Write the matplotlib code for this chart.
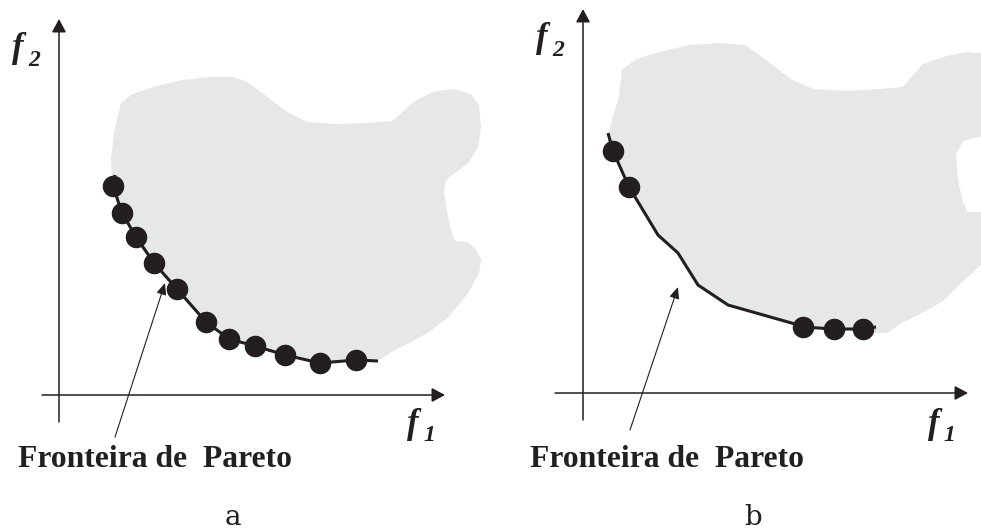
import matplotlib
matplotlib.use("Agg")
import matplotlib.pyplot as plt
from matplotlib.patches import Polygon

# ---------------------------------------------------------------
# Data (drawing units: pixels of the 981 x 532 canvas, y downwards)
# ---------------------------------------------------------------

# Panel a: objective-space region outline
region_a_x = [122, 133, 157, 183, 210, 233, 247, 267, 287, 307, 333, 367, 393,
              403, 415, 433, 453, 470, 478, 480, 477, 467, 453, 445, 443, 447,
              452, 455, 467, 475, 480, 478, 467, 447, 430, 413, 393, 380,
              356, 320, 285, 255, 229, 206, 177, 154, 136, 122, 113, 112, 115]
region_a_y = [103, 95, 87, 81, 78, 78, 83, 98, 113, 123, 125, 124, 122,
              113, 102, 93, 90, 95, 105, 127, 147, 163, 173, 180, 193, 217,
              237, 242, 243, 250, 260, 273, 293, 317, 330, 340, 350, 358,
              360, 363, 355, 346, 339, 322, 289, 263, 237, 213, 180, 160, 133]

# Panel a: Pareto-optimal solutions and the front through them
front_a_x = [113, 122, 136, 154, 177, 206, 229, 255, 285, 320, 356]
front_a_y = [186, 213, 237, 263, 289, 322, 339, 346, 355, 363, 360]
curve_a_x = [115] + front_a_x + [378]
curve_a_y = [175] + front_a_y + [361]

# Panel b: objective-space region outline
region_b_x = [623, 637, 663, 690, 720, 745, 767, 790, 813, 847, 880, 903,
              913, 923, 947, 967, 990, 990, 963, 955, 957, 962, 967, 990,
              990, 963, 943, 920, 900, 887, 873,
              863, 834, 803, 795, 728, 698, 678, 658, 629, 613, 608,
              613, 620, 622]
region_b_y = [70, 60, 52, 46, 44, 46, 62, 80, 90, 92, 90, 88,
              77, 65, 57, 53, 55, 133, 140, 153, 180, 203, 213, 213,
              255, 280, 300, 313, 323, 332, 332,
              329, 329, 327, 324, 305, 285, 253, 235, 187, 151, 145,
              120, 97, 77]

# Panel b: Pareto-optimal solutions found and the true front
front_b_x = [613, 629, 803, 834, 863]
front_b_y = [151, 187, 327, 329, 329]
curve_b_x = [608, 613, 629, 658, 678, 698, 728, 795, 803, 834, 863, 876]
curve_b_y = [133, 151, 187, 235, 253, 285, 305, 324, 327, 329, 329, 327]

# Axes (origin / extents) of each panel
axis_x_start = [42, 555]
axis_x_end = [445, 968]
axis_x_level = [395, 393]
axis_y_pos = [59, 583]
axis_y_bottom = [422, 420]
axis_y_top = [19, 9]

# Pointer arrows from the caption to the front
pointer_tail = [(115, 437), (630, 430)]
pointer_head = [(165, 283), (678, 287)]

caption = "Fronteira de  Pareto"
caption_x = [18, 530]
panel_labels = ["a", "b"]
panel_label_x = [233, 753]

INK = "#231f20"
REGION = "#e6e7e8"

fig = plt.figure(figsize=(9.81, 5.32), dpi=100)
ax = fig.add_axes([0, 0, 1, 1])
ax.set_xlim(0, 981)
ax.set_ylim(532, 0)
ax.axis("off")

# Feasible regions
for rx, ry in [(region_a_x, region_a_y), (region_b_x, region_b_y)]:
    ax.add_patch(Polygon(list(zip(rx, ry)), closed=True, facecolor=REGION,
                         edgecolor=REGION, lw=1.5, joinstyle="round", zorder=1))

# Coordinate axes with arrow heads
axis_style = "-|>,head_length=8,head_width=4.3"
for i in range(2):
    ax.annotate("", xy=(axis_x_end[i], axis_x_level[i]),
                xytext=(axis_x_start[i], axis_x_level[i]),
                arrowprops=dict(arrowstyle=axis_style, mutation_scale=1,
                                color=INK, lw=1.1, shrinkA=0, shrinkB=0),
                zorder=2)
    ax.annotate("", xy=(axis_y_pos[i], axis_y_top[i]),
                xytext=(axis_y_pos[i], axis_y_bottom[i]),
                arrowprops=dict(arrowstyle=axis_style, mutation_scale=1,
                                color=INK, lw=1.1, shrinkA=0, shrinkB=0),
                zorder=2)

# Pareto fronts
ax.plot(curve_a_x, curve_a_y, color=INK, lw=2.2, solid_joinstyle="round",
        solid_capstyle="butt", zorder=3)
ax.plot(front_a_x, front_a_y, "o", color=INK, ms=14.5, zorder=4)
ax.plot(curve_b_x, curve_b_y, color=INK, lw=2.2, solid_joinstyle="round",
        solid_capstyle="butt", zorder=3)
ax.plot(front_b_x, front_b_y, "o", color=INK, ms=14.5, zorder=4)

# Caption pointers
for tail, head in zip(pointer_tail, pointer_head):
    ax.annotate("", xy=head, xytext=tail,
                arrowprops=dict(arrowstyle="-|>,head_length=7,head_width=3",
                                mutation_scale=1, color=INK, lw=0.8,
                                shrinkA=0, shrinkB=0),
                zorder=5)

serif = "Liberation Serif"
for i in range(2):
    ax.text(caption_x[i], 467, caption, family=serif, weight="bold",
            fontsize=22.8, color=INK, ha="left", va="baseline")
    ax.text(panel_label_x[i], 525, panel_labels[i], family="DejaVu Serif",
            fontsize=20, color=INK, ha="center", va="baseline")

# Objective labels f1 / f2
f_style = dict(family=serif, weight="bold", style="italic", color=INK,
               ha="left", va="baseline")
# f2 labels
ax.text(12, 57, "f", fontsize=25, **f_style)
ax.text(28, 66, "2", fontsize=17, **f_style)
ax.text(536, 47, "f", fontsize=25, **f_style)
ax.text(552, 56, "2", fontsize=17, **f_style)
# f1 labels
ax.text(407, 433, "f", fontsize=25, **f_style)
ax.text(423, 441, "1", fontsize=17, **f_style)
ax.text(928, 433, "f", fontsize=25, **f_style)
ax.text(943, 441, "1", fontsize=17, **f_style)

fig.savefig("out.png", dpi=100)
